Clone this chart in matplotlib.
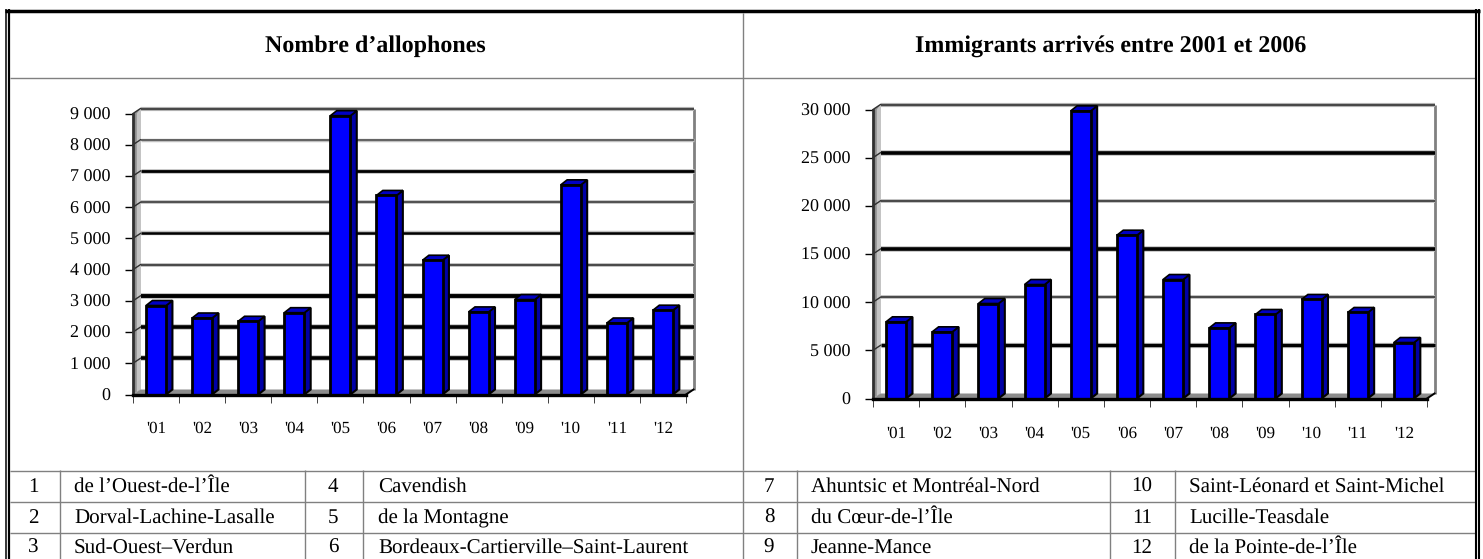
import matplotlib
matplotlib.use('Agg')
import matplotlib.pyplot as plt

plt.rcParams['font.family'] = ['Liberation Serif', 'DejaVu Serif']
plt.rcParams['text.hinting'] = 'none'
plt.rcParams['text.hinting_factor'] = 1

W, H = 1483, 559

# data
categories = ["'01", "'02", "'03", "'04", "'05", "'06", "'07", "'08", "'09", "'10", "'11", "'12"]
allophones = [2850, 2450, 2345, 2620, 8930, 6375, 4300, 2645, 3040, 6715, 2290, 2700]
immigrants = [7960, 6920, 9860, 11830, 29860, 16950, 12350, 7330, 8720, 10280, 8930, 5810]
ticks_allo = [0, 1000, 2000, 3000, 4000, 5000, 6000, 7000, 8000, 9000]
ticks_immi = [0, 5000, 10000, 15000, 20000, 25000, 30000]
labels_allo = ['0', '1 000', '2 000', '3 000', '4 000', '5 000', '6 000', '7 000', '8 000', '9 000']
labels_immi = ['0', '5 000', '10 000', '15 000', '20 000', '25 000', '30 000']
grid_allo = [0, 2.6, 2.6, 2.8, 1.4, 1.8, 1.3, 2.0, 1.1, 1.6]
grid_immi = [0, 2.4, 1.4, 2.6, 1.4, 2.6, 1.6]
title_allo = 'Nombre d’allophones'
title_immi = 'Immigrants arrivés entre 2001 et 2006'
numbers_a = ['1', '2', '3']
names_a = ['de l’Ouest-de-l’Île', 'Dorval-Lachine-Lasalle', 'Sud-Ouest–Verdun']
numbers_b = ['4', '5', '6']
names_b = ['Cavendish', 'de la Montagne', 'Bordeaux-Cartierville–Saint-Laurent']
numbers_c = ['7', '8', '9']
names_c = ['Ahuntsic et Montréal-Nord', 'du Cœur-de-l’Île', 'Jeanne-Mance']
numbers_d = ['10', '11', '12']
names_d = ['Saint-Léonard et Saint-Michel', 'Lucille-Teasdale', 'de la Pointe-de-l’Île']

fig = plt.figure(figsize=(W / 100, H / 100), dpi=100)

# page layer in pixels, for the table and its frame
bg = fig.add_axes([0, 0, 1, 1])
bg.set_xlim(0, W)
bg.set_ylim(H, 0)
bg.axis('off')

line_gray = '#808080'
bg.hlines(78, 10, 1476, color=line_gray, lw=1)
bg.hlines([470.5, 501.5, 532.5], 10, 1476, color=line_gray, lw=1)
bg.vlines(742.5, 13, 470, color=line_gray, lw=1)
bg.vlines([59.5, 305, 363, 742.5, 797, 1110, 1175], 470, H, color=line_gray, lw=1)

# double frame, open at the bottom
bg.vlines([5.5, 9], 9, H, color='black', lw=[1.1, 1.6])
bg.vlines([1476, 1479], 9, H, color='black', lw=[1.5, 1.5])
bg.hlines(11, 5, 1480, color='black', lw=2.5)

bg.text(375, 51.5, title_allo, fontsize=17.2, fontweight='bold', ha='center', va='baseline')
bg.text(1111, 51.5, title_immi, fontsize=17.2, fontweight='bold', ha='center', va='baseline')

row_y = [492, 523, 553]
for y, na, a, nb, b, nc, c, nd, d in zip(row_y, numbers_a, names_a, numbers_b, names_b,
                                          numbers_c, names_c, numbers_d, names_d):
    bg.text(33, y, na, fontsize=15.2, ha='center', va='baseline')
    bg.text(74, y, a, fontsize=15.2, va='baseline')
    bg.text(333, y, nb, fontsize=15.2, ha='center', va='baseline')
    bg.text(378, y, b, fontsize=15.2, va='baseline')
    bg.text(769, y, nc, fontsize=15.2, ha='center', va='baseline')
    bg.text(811, y, c, fontsize=15.2, va='baseline')
    bg.text(1142, y, nd, fontsize=15.2, ha='center', va='baseline')
    bg.text(1189, y, d, fontsize=15.2, va='baseline')


def chart(left, right, y_base, y_top, values, yticks, ylabels, grid_lw, label_pad):
    ax = fig.add_axes([left / W, 1 - y_base / H, (right - left) / W, (y_base - y_top) / H])
    ax.patch.set_alpha(0)
    ymax = yticks[-1]
    n = len(values)
    ax.set_xlim(0, n)
    ax.set_ylim(0, ymax)

    # fake 3d depth, 7 px across and 5 px up
    px_x = n / (right - left)
    px_y = ymax / (y_base - y_top)
    dx = 7.5 * px_x
    dy = 5 * px_y
    top = ymax + dy

    # left wall and floor
    ax.fill([0, dx, dx, 0], [0, dy, top, ymax], color='#8e8e8e', lw=0, clip_on=False, zorder=1)
    ax.fill([dx * 0.5, dx, dx, dx * 0.5], [dy * 0.5, dy, top, ymax], color='#c4c4c4', lw=0,
            clip_on=False, zorder=1)
    ax.fill([0, n, n + dx, dx], [0, 0, dy, dy], color='#8c8c8c', lw=0, clip_on=False, zorder=1)
    ax.plot([n + dx, n + dx], [dy, top], color='#808080', lw=2, clip_on=False, zorder=2,
            solid_capstyle='butt')
    ax.plot([n, n + dx], [0, dy], color='black', lw=1.4, clip_on=False, zorder=2)

    # gridlines sit on the back wall
    for v, lw in zip(yticks[1:], grid_lw[1:]):
        dark = 'black' if lw >= 1.8 else '#484848'
        ax.plot([dx, n + dx], [v + dy, v + dy], color='#c0c0c0', lw=lw + 1.4, clip_on=False,
                zorder=2, solid_capstyle='butt')
        ax.plot([dx, n + dx], [v + dy, v + dy], color=dark, lw=lw, clip_on=False, zorder=2,
                solid_capstyle='butt')
        ax.plot([0, dx], [v, v + dy], color='#303030', lw=1, clip_on=False, zorder=2)

    # bars: front by bar(), side and top as polygons
    width = 20 / 46
    xs = [i + 0.5 for i in range(n)]
    for x, v in zip(xs, values):
        x0, x1 = x - width / 2, x + width / 2
        ax.fill([x1, x1 + dx * 0.85, x1 + dx * 0.85, x1], [0, dy, v + dy, v], facecolor='#0000a6',
                edgecolor='black', lw=1.5, clip_on=False, zorder=4)
        ax.fill([x0, x0 + dx * 0.85, x1 + dx * 0.85, x1], [v, v + dy, v + dy, v], facecolor='#0000c4',
                edgecolor='black', lw=1.2, clip_on=False, zorder=4)
    ax.bar(xs, values, width=width, color='#0000ff', edgecolor='black', lw=2, clip_on=False, zorder=5)

    for name in ['top', 'right']:
        ax.spines[name].set_visible(False)
    ax.spines['left'].set_linewidth(2)
    ax.spines['left'].set_color('#303030')
    ax.spines['bottom'].set_linewidth(2.4)
    ax.spines['bottom'].set_zorder(6)

    ax.set_yticks(yticks)
    ax.set_yticklabels(ylabels, fontsize=13)
    ax.tick_params(axis='y', length=6, width=1, pad=10)
    ax.set_xticks(range(n + 1))
    ax.set_xticklabels([])
    ax.tick_params(axis='x', which='major', length=6, width=0.7, direction='out', color='#404040')
    ax.set_xticks(xs, minor=True)
    ax.set_xticklabels(categories, minor=True, fontsize=12)
    ax.tick_params(axis='x', which='minor', length=0, pad=label_pad)
    return ax


chart(133, 686, 394.5, 113.5, allophones, ticks_allo, labels_allo, grid_allo, 19)
chart(873, 1427, 398.5, 109.5, immigrants, ticks_immi, labels_immi, grid_immi, 20)

fig.savefig('out.png', dpi=100)
